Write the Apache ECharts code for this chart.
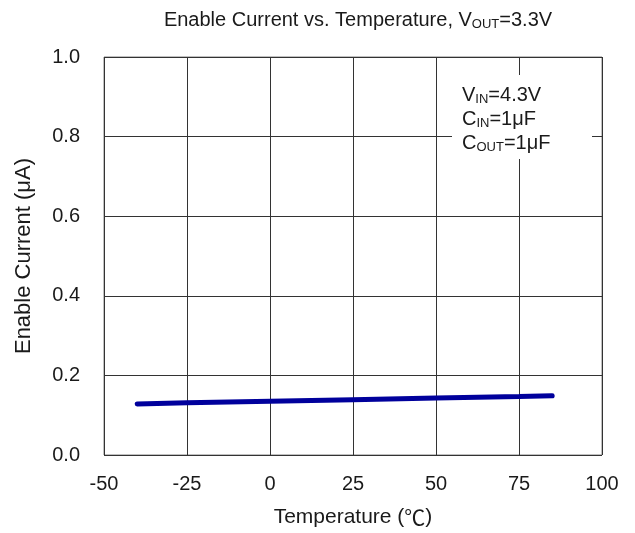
<!DOCTYPE html>
<html><head><meta charset="utf-8">
<script src="https://cdn.jsdelivr.net/npm/echarts@6/dist/echarts.min.js"></script>
<style>html,body{margin:0;padding:0;background:#fff}#c{width:635px;height:533px}</style>
</head><body><div id="c"></div>
<script>
const temperature = [-40, -25, 0, 25, 50, 75, 85];
const enableCurrent = [0.128, 0.131, 0.135, 0.139, 0.143, 0.147, 0.149];
const xTicks = [-50, -25, 0, 25, 50, 75, 100];
const yTicks = [0.0, 0.2, 0.4, 0.6, 0.8, 1.0];

const chart = echarts.init(document.getElementById('c'), null, {renderer: 'canvas'});
const font = '"Liberation Sans", Arial, "Noto Sans CJK JP", sans-serif';
const cjk = '"Noto Sans CJK JP", "Noto Sans CJK SC", sans-serif';
chart.setOption({
  animation: false,
  backgroundColor: '#fff',
  title: {
    text: 'Enable Current vs. Temperature, V{s|OUT}=3.3V',
    left: 353, top: 4, textAlign: 'center',
    textStyle: {fontSize: 20, fontWeight: 'normal', color: '#1a1a1a', fontFamily: font,
      rich: {s: {fontSize: 13, fontFamily: font, color: '#1a1a1a', padding: [9,0,0,0]}}}
  },
  grid: {left: 104, right: 33, top: 57, bottom: 77, show: true, borderColor: '#808080', borderWidth: 1},
  xAxis: {
    type: 'value', min: -50, max: 100, interval: 25,
    name: 'Temperature ({c|℃})', nameLocation: 'middle', nameGap: 52,
    nameTextStyle: {fontSize: 21, color: '#1a1a1a', fontFamily: font,
      rich: {c: {fontSize: 21, color: '#1a1a1a', fontFamily: cjk}}},
    axisLine: {show: false}, axisTick: {show: false},
    axisLabel: {fontSize: 20, color: '#1a1a1a', fontFamily: font, margin: 19,
      formatter: v => xTicks.includes(v) ? String(v) : ''},
    splitLine: {show: true, lineStyle: {color: '#333', width: 1}}
  },
  yAxis: {
    type: 'value', min: 0, max: 1.0, interval: 0.2,
    name: 'Enable Current (μA)', nameLocation: 'middle', nameGap: 69,
    nameTextStyle: {fontSize: 22, color: '#1a1a1a', fontFamily: font},
    axisLine: {show: false}, axisTick: {show: false},
    axisLabel: {fontSize: 20, color: '#1a1a1a', fontFamily: font, margin: 24,
      formatter: v => yTicks.some(t => Math.abs(t - v) < 1e-9) ? v.toFixed(1) : ''},
    splitLine: {show: true, lineStyle: {color: '#333', width: 1}}
  },
  graphic: [
    {type: 'rect', shape: {x: 452, y: 75, width: 140, height: 84}, style: {fill: '#fff'}, z: 10},
    {type: 'text', x: 462, y: 83, z: 11, style: {
      text: 'V{s|IN}=4.3V\nC{s|IN}=1μF\nC{s|OUT}=1μF',
      font: '20px ' + font, fill: '#1a1a1a', lineHeight: 24,
      rich: {s: {fontSize: 13, fontFamily: font, fill: '#1a1a1a', padding: [8,0,0,0]}}
    }}
  ],
  series: [{
    type: 'line', data: temperature.map((t, i) => [t, enableCurrent[i]]),
    showSymbol: false, smooth: false,
    lineStyle: {color: '#00009c', width: 5, cap: 'round'}, z: 5
  }]
});
</script></body></html>
